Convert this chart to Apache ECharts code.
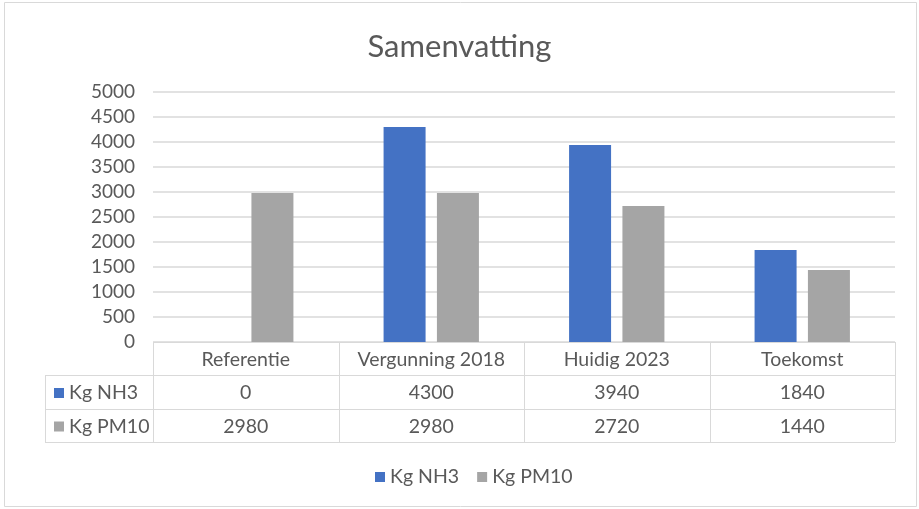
<!DOCTYPE html>
<html>
<head>
<meta charset="utf-8">
<script src="https://cdn.jsdelivr.net/npm/echarts@6/dist/echarts.min.js"></script>
<style>
  html, body { margin: 0; padding: 0; background: #fff; }
  #chart { width: 919px; height: 509px; }
</style>
</head>
<body>
<div id="chart"></div>
<script>
// Samenvatting — NH3 en PM10 per situatie, met datatabel onder de as
const categories = ['Referentie', 'Vergunning 2018', 'Huidig 2023', 'Toekomst']
const seriesNames = ['Kg NH3', 'Kg PM10']
const nh3 = [0, 4300, 3940, 1840]
const pm10 = [2980, 2980, 2720, 1440]
const yTicks = [0, 500, 1000, 1500, 2000, 2500, 3000, 3500, 4000, 4500, 5000]

const COLORS = ['#4472C4', '#A5A5A5']
const TEXT = '#595959'
const LINE = '#D9D9D9'
const FONT = 'Lato, "Liberation Sans", sans-serif'

const GRID = { left: 153, right: 24, top: 92, bottom: 167 }
const W = 919
const H = 509

const chart = echarts.init(document.getElementById('chart'), null, { renderer: 'canvas' })

function tableGraphics() {
  const x0 = GRID.left
  const x1 = W - GRID.right
  const top = H - GRID.bottom
  const rowH = [33, 34, 33]
  const rowY = [top, top + rowH[0], top + rowH[0] + rowH[1], top + rowH[0] + rowH[1] + rowH[2]]
  const leftX = 45
  const colW = (x1 - x0) / categories.length
  const els = []
  const line = (xa, ya, xb, yb) => els.push({
    type: 'line', silent: true,
    shape: { x1: xa, y1: ya, x2: xb, y2: yb },
    style: { stroke: LINE, lineWidth: 1 },
  })
  const text = (x, y, s, align) => els.push({
    type: 'text', silent: true, x, y,
    style: { text: s, fill: TEXT, font: '19.5px ' + FONT, align: align || 'center', verticalAlign: 'middle' },
  })

  // horizontale lijnen
  line(x0, rowY[0] + 0.5, x1, rowY[0] + 0.5)
  for (let r = 1; r < rowY.length; r++) line(leftX, rowY[r] + 0.5, x1, rowY[r] + 0.5)
  // verticale lijnen
  line(leftX + 0.5, rowY[1], leftX + 0.5, rowY[3])
  for (let c = 0; c <= categories.length; c++) {
    const x = Math.round(x0 + c * colW) + 0.5
    line(x, rowY[0], x, rowY[3])
  }
  // kop
  categories.forEach((c, i) => text(x0 + (i + 0.5) * colW, (rowY[0] + rowY[1]) / 2 + 1, c))
  // rijen
  const rows = [nh3, pm10]
  rows.forEach((vals, r) => {
    const cy = (rowY[r + 1] + rowY[r + 2]) / 2 + 1
    els.push({
      type: 'rect', silent: true,
      shape: { x: 54, y: cy - 5, width: 10, height: 10 },
      style: { fill: COLORS[r] },
    })
    text(69, cy, seriesNames[r], 'left')
    vals.forEach((v, i) => text(x0 + (i + 0.5) * colW, cy, String(v)))
  })
  // buitenrand
  els.push({
    type: 'rect', silent: true,
    shape: { x: 4.5, y: 2.5, width: 912, height: 504 },
    style: { fill: null, stroke: LINE, lineWidth: 1 },
  })
  return els
}

chart.setOption({
  animation: false,
  color: COLORS,
  textStyle: { fontFamily: FONT, color: TEXT },
  title: {
    text: 'Samenvatting',
    left: 'center',
    top: 26,
    textStyle: { fontFamily: FONT, fontSize: 31, fontWeight: 'normal', color: TEXT },
  },
  legend: {
    left: 370,
    top: 462,
    icon: 'rect',
    itemWidth: 10,
    itemHeight: 10,
    itemGap: 18,
    textStyle: { fontFamily: FONT, fontSize: 19.5, color: TEXT },
    data: seriesNames,
  },
  grid: GRID,
  xAxis: {
    type: 'category',
    data: categories,
    axisLine: { show: false },
    axisTick: { show: false },
    axisLabel: { show: false },
  },
  yAxis: {
    type: 'value',
    min: yTicks[0],
    max: yTicks[yTicks.length - 1],
    interval: yTicks[1] - yTicks[0],
    axisLine: { show: false },
    axisTick: { show: false },
    axisLabel: { fontFamily: FONT, fontSize: 19, color: TEXT, margin: 18, formatter: (v) => String(v) },
    splitLine: { lineStyle: { color: LINE, width: 1.5 } },
  },
  series: [
    { name: seriesNames[0], type: 'bar', data: nh3, barWidth: 42, barGap: '27%' },
    { name: seriesNames[1], type: 'bar', data: pm10, barWidth: 42, barGap: '27%' },
  ],
  graphic: tableGraphics(),
})
</script>
</body>
</html>
